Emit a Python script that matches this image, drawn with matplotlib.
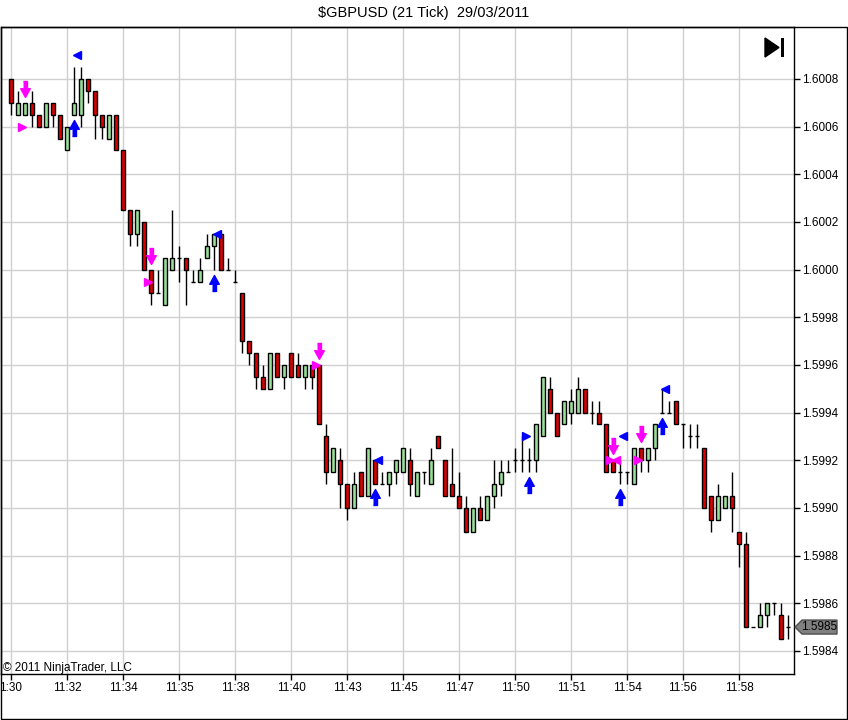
import numpy as np
import matplotlib
matplotlib.use("Agg")
from matplotlib import pyplot as plt
from matplotlib.patches import Polygon, Rectangle
from matplotlib.transforms import offset_copy

plt.rcParams['font.family'] = ['Liberation Sans', 'DejaVu Sans']

# OHLC for each 21-tick bar
opens = [1.60080, 1.60065, 1.60065, 1.60070, 1.60065, 1.60060, 1.60070, 1.60065, 1.60050, 1.60065,
         1.60065, 1.60080, 1.60075, 1.60065, 1.60055, 1.60065, 1.60050, 1.60025, 1.60015, 1.60020,
         1.60000, 1.59990, 1.59985, 1.60000, 1.60005, 1.60005, 1.59995, 1.59995, 1.60005, 1.60010,
         1.60015, 1.60000, 1.59995, 1.59990, 1.59970, 1.59965, 1.59955, 1.59950, 1.59965, 1.59955,
         1.59965, 1.59960, 1.59955, 1.59960, 1.59960, 1.59930, 1.59915, 1.59920, 1.59910, 1.59900,
         1.59915, 1.59905, 1.59920, 1.59910, 1.59910, 1.59915, 1.59915, 1.59920, 1.59905, 1.59915,
         1.59910, 1.59930, 1.59920, 1.59910, 1.59905, 1.59900, 1.59890, 1.59900, 1.59895, 1.59905,
         1.59910, 1.59915, 1.59920, 1.59920, 1.59920, 1.59920, 1.59930, 1.59950, 1.59940, 1.59935,
         1.59940, 1.59940, 1.59950, 1.59940, 1.59940, 1.59935, 1.59920, 1.59915, 1.59915, 1.59910,
         1.59925, 1.59920, 1.59925, 1.59940, 1.59940, 1.59945, 1.59935, 1.59930, 1.59930, 1.59925,
         1.59905, 1.59895, 1.59900, 1.59905, 1.59890, 1.59885, 1.59850, 1.59850, 1.59855, 1.59860,
         1.59855, 1.59850]
highs = [1.60080, 1.60075, 1.60070, 1.60075, 1.60065, 1.60070, 1.60070, 1.60065, 1.60060, 1.60085,
         1.60085, 1.60080, 1.60075, 1.60065, 1.60065, 1.60065, 1.60050, 1.60025, 1.60025, 1.60020,
         1.60000, 1.60000, 1.60005, 1.60025, 1.60010, 1.60005, 1.60000, 1.60005, 1.60015, 1.60015,
         1.60015, 1.60005, 1.60000, 1.59990, 1.59970, 1.59965, 1.59960, 1.59965, 1.59965, 1.59960,
         1.59965, 1.59965, 1.59960, 1.59960, 1.59960, 1.59935, 1.59925, 1.59925, 1.59910, 1.59915,
         1.59915, 1.59925, 1.59920, 1.59915, 1.59915, 1.59920, 1.59925, 1.59925, 1.59915, 1.59915,
         1.59925, 1.59930, 1.59920, 1.59925, 1.59915, 1.59905, 1.59900, 1.59905, 1.59905, 1.59920,
         1.59920, 1.59920, 1.59925, 1.59930, 1.59925, 1.59935, 1.59955, 1.59955, 1.59940, 1.59945,
         1.59950, 1.59955, 1.59950, 1.59945, 1.59945, 1.59935, 1.59920, 1.59920, 1.59915, 1.59925,
         1.59925, 1.59925, 1.59935, 1.59950, 1.59945, 1.59945, 1.59935, 1.59935, 1.59935, 1.59925,
         1.59905, 1.59910, 1.59905, 1.59915, 1.59890, 1.59890, 1.59850, 1.59860, 1.59860, 1.59860,
         1.59860, 1.59855]
lows = [1.60065, 1.60065, 1.60065, 1.60060, 1.60060, 1.60060, 1.60060, 1.60055, 1.60050, 1.60065,
        1.60060, 1.60070, 1.60055, 1.60055, 1.60055, 1.60050, 1.60025, 1.60010, 1.60010, 1.60000,
        1.59985, 1.59990, 1.59985, 1.60000, 1.59995, 1.59985, 1.59995, 1.59995, 1.60005, 1.60000,
        1.60000, 1.60000, 1.59995, 1.59965, 1.59960, 1.59950, 1.59950, 1.59950, 1.59955, 1.59950,
        1.59955, 1.59955, 1.59950, 1.59950, 1.59935, 1.59910, 1.59915, 1.59900, 1.59895, 1.59900,
        1.59905, 1.59905, 1.59910, 1.59910, 1.59905, 1.59910, 1.59915, 1.59905, 1.59905, 1.59910,
        1.59910, 1.59925, 1.59905, 1.59905, 1.59900, 1.59890, 1.59890, 1.59895, 1.59895, 1.59900,
        1.59905, 1.59915, 1.59915, 1.59915, 1.59915, 1.59915, 1.59930, 1.59940, 1.59930, 1.59935,
        1.59935, 1.59940, 1.59940, 1.59935, 1.59935, 1.59915, 1.59915, 1.59910, 1.59910, 1.59910,
        1.59915, 1.59915, 1.59920, 1.59940, 1.59940, 1.59935, 1.59925, 1.59925, 1.59925, 1.59900,
        1.59890, 1.59895, 1.59900, 1.59890, 1.59875, 1.59850, 1.59850, 1.59850, 1.59850, 1.59855,
        1.59845, 1.59845]
closes = [1.60070, 1.60070, 1.60070, 1.60065, 1.60060, 1.60070, 1.60065, 1.60055, 1.60060, 1.60070,
          1.60080, 1.60075, 1.60065, 1.60060, 1.60065, 1.60050, 1.60025, 1.60015, 1.60025, 1.60000,
          1.59990, 1.59990, 1.60005, 1.60005, 1.60005, 1.60000, 1.59995, 1.60000, 1.60010, 1.60015,
          1.60000, 1.60000, 1.59995, 1.59970, 1.59965, 1.59955, 1.59950, 1.59965, 1.59955, 1.59960,
          1.59955, 1.59955, 1.59960, 1.59955, 1.59935, 1.59915, 1.59925, 1.59910, 1.59900, 1.59910,
          1.59905, 1.59925, 1.59910, 1.59910, 1.59915, 1.59920, 1.59925, 1.59910, 1.59915, 1.59915,
          1.59920, 1.59925, 1.59905, 1.59905, 1.59900, 1.59890, 1.59900, 1.59895, 1.59905, 1.59910,
          1.59915, 1.59915, 1.59920, 1.59920, 1.59920, 1.59935, 1.59955, 1.59940, 1.59930, 1.59945,
          1.59945, 1.59950, 1.59940, 1.59940, 1.59935, 1.59915, 1.59915, 1.59915, 1.59915, 1.59925,
          1.59920, 1.59925, 1.59935, 1.59940, 1.59940, 1.59935, 1.59935, 1.59930, 1.59930, 1.59900,
          1.59895, 1.59905, 1.59905, 1.59900, 1.59885, 1.59850, 1.59850, 1.59855, 1.59860, 1.59860,
          1.59845, 1.59850]

# time labels (every 8 bars)
time_labels = ["1:30", "11:32", "11:34", "11:35", "11:38", "11:40", "11:43",
               "11:45", "11:47", "11:50", "11:51", "11:54", "11:56", "11:58"]
price_ticks = [1.5984, 1.5986, 1.5988, 1.5990, 1.5992, 1.5994, 1.5996,
               1.5998, 1.6000, 1.6002, 1.6004, 1.6006, 1.6008]

# strategy signals
sell_bars = [2, 20, 44, 86, 90]
buy_bars = [9, 29, 52, 74, 87, 93]
sell_entry_bars = [2, 20, 44, 86, 90]
sell_entry_prices = [1.60060, 1.59995, 1.59960, 1.59920, 1.59920]
sell_exit_bars = [86]
sell_exit_prices = [1.59920]
buy_exit_bars = [9, 29, 52, 87, 93]
buy_exit_prices = [1.60090, 1.60015, 1.59920, 1.59930, 1.59950]
buy_entry_bars = [74]
buy_entry_prices = [1.59930]
last_price = 1.5985

o = np.array(opens); h = np.array(highs); l = np.array(lows); c = np.array(closes)
x = np.arange(len(o))

fig = plt.figure(figsize=(8.48, 7.2), dpi=100)
ax = fig.add_axes([1/848, 46/720, 793/848, 647/720])

red = '#DD0000'
green = '#98E098'
w = 0.7

ax.vlines(x, l, h, color='black', lw=1, zorder=2)
doji = np.isclose(o, c)
up = (c > o) & ~doji
dn = (c < o) & ~doji
ax.bar(x[up], (c - o)[up], bottom=o[up], width=w, color=green, edgecolor='black', lw=1, zorder=3)
ax.bar(x[dn], (o - c)[dn], bottom=c[dn], width=w, color=red, edgecolor='black', lw=1, zorder=3)
ax.hlines(o[doji], x[doji] - w/2, x[doji] + w/2, color='black', lw=1, zorder=3)

# arrows
down_arrow = [(-0.25, 1), (0.25, 1), (0.25, 0.1), (0.6, 0.1), (0, -1), (-0.6, 0.1), (-0.25, 0.1)]
up_arrow = [(vx, -vy) for vx, vy in down_arrow]
tr_up = offset_copy(ax.transData, fig=fig, x=0, y=14, units='dots')
tr_dn = offset_copy(ax.transData, fig=fig, x=0, y=-13, units='dots')
ax.plot(sell_bars, h[sell_bars], ls='none', marker=down_arrow, ms=11.5, color='#FF00FF',
        mec='#FF00FF', transform=tr_up, zorder=4)
ax.plot(buy_bars, l[buy_bars], ls='none', marker=up_arrow, ms=11.5, color='#0000FF',
        mec='#0000FF', transform=tr_dn, zorder=4)

tr_left = offset_copy(ax.transData, fig=fig, x=-3, y=0, units='dots')
tr_right = offset_copy(ax.transData, fig=fig, x=3, y=0, units='dots')
ax.plot(sell_entry_bars, sell_entry_prices, ls='none', marker='>', ms=6, color='#FF00FF',
        mec='#FF00FF', transform=tr_left, zorder=4)
ax.plot(sell_exit_bars, sell_exit_prices, ls='none', marker='<', ms=6, color='#FF00FF',
        mec='#FF00FF', transform=tr_right, zorder=4)
ax.plot(buy_exit_bars, buy_exit_prices, ls='none', marker='<', ms=6, color='#0000FF',
        mec='#0000FF', transform=tr_right, zorder=4)
ax.plot(buy_entry_bars, buy_entry_prices, ls='none', marker='>', ms=6, color='#0000FF',
        mec='#0000FF', transform=tr_left, zorder=4)

ax.set_xlim(-1.43, 111.86)
ax.set_ylim(1.598303, 1.601018)

ax.set_xticks(np.arange(0, 8 * len(time_labels), 8))
ax.set_xticklabels(time_labels, fontsize=8.5)
ax.set_yticks(price_ticks)
ax.set_yticklabels(['%.4f' % p for p in price_ticks], fontsize=8.5)
ax.yaxis.tick_right()
ax.tick_params(axis='both', length=4, width=1, color='black', pad=2, direction='out')
ax.grid(True, color='#D0D0D0', lw=1)
ax.set_axisbelow(True)
for s in ax.spines.values():
    s.set_linewidth(1)

# last price marker
lp_y = ax.transData.transform((0, last_price))[1]
fig.patches.append(Polygon([(795, lp_y), (802, lp_y + 7), (837, lp_y + 7), (837, lp_y - 7), (802, lp_y - 7)],
                           closed=True, transform=None, facecolor='#808080', edgecolor='#505050', lw=1))
fig.text(801.5 / 848, lp_y / 720, '%.4f' % last_price, fontsize=8.5, va='center', ha='left', color='black')

# play icon
fig.patches.append(Polygon([(765, 720 - 38), (765, 720 - 57), (779, 720 - 47.5)], closed=True,
                           transform=None, facecolor='black', edgecolor='black'))
fig.patches.append(Rectangle((781, 720 - 57), 3, 19, transform=None, facecolor='black', edgecolor='none'))

# outer frame
fig.patches.append(Rectangle((1, 1), 846, 692, transform=None, fill=False, edgecolor='black', lw=1))

fig.text(3 / 848, 1 - 668 / 720, '\u00a9 2011 NinjaTrader, LLC', fontsize=8.5, va='center', ha='left')
fig.text(424 / 848, 1 - 13 / 720, '$GBPUSD (21 Tick)  29/03/2011', fontsize=10.5, va='center', ha='center')

fig.savefig('out.png', dpi=100)
